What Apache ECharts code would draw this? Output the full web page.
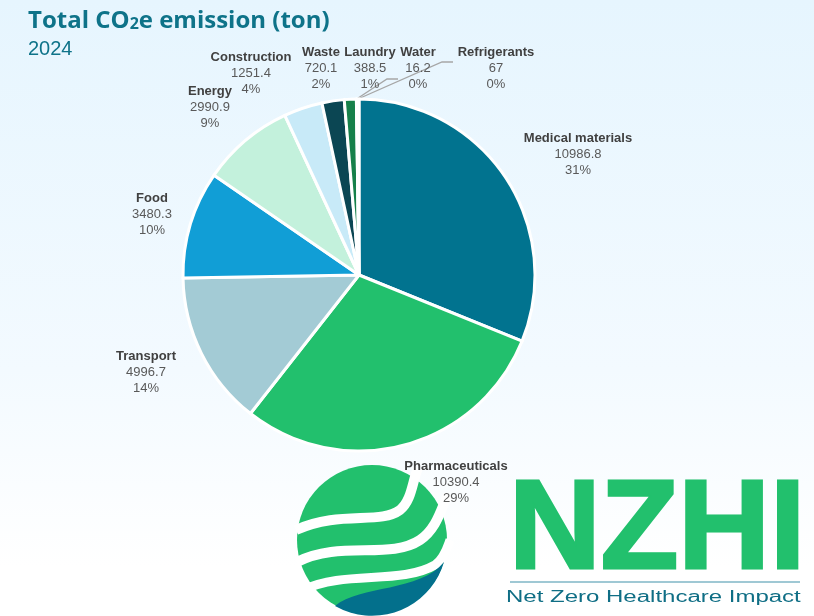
<!DOCTYPE html>
<html>
<head>
<meta charset="utf-8">
<script src="https://cdn.jsdelivr.net/npm/echarts@6/dist/echarts.min.js"></script>
<style>
  html, body { margin: 0; padding: 0; }
  #main {
    width: 814px;
    height: 616px;
    background: linear-gradient(to bottom, #e6f5fe 0%, #f3faff 60%, #ffffff 92%);
  }
</style>
</head>
<body>
<div id="main"></div>
<script>
// categories + values (clockwise from 12 o'clock)
var categories = ['Medical materials', 'Pharmaceuticals', 'Transport', 'Food', 'Energy',
  'Construction', 'Waste', 'Laundry', 'Water', 'Refrigerants'];
var values = [10986.8, 10390.4, 4996.7, 3480.3, 2990.9, 1251.4, 720.1, 388.5, 16.2, 67];
var colors = ['#01738f', '#22c06d', '#a3cbd5', '#119ed6', '#c3f1dc',
  '#c8eaf8', '#0b4653', '#16804a', '#6fcf97', '#0a5a6e'];
// where excel put each label block (centre)
var labelPos = [[578, 154], [456, 482], [146, 372], [152, 214], [210, 107],
  [251, 73], [321, 68], [370, 68], [418, 68], [496, 68]];
// leader line elbow + end for the tiny slices
var leaderEnds = { 8: [[387, 79], [398, 79]], 9: [[442, 62], [453, 62]] };

// logo shapes
var logoPaths = {
  gap1: 'M 296 530 C 340 510 380 525 400 510 C 412 500 412 482 418 468',
  gap2: 'M 297 562 C 340 540 390 560 420 540 C 438 528 442 505 448 495',
  gap3: 'M 303 590 C 345 570 400 585 435 565 C 445 558 448 545 450 540',
  teal: 'M 335 606 C 360 585 420 592 444 562 A 75 75 0 0 1 335 606 Z'
};
Object.keys(logoPaths).forEach(function (k) {
  echarts.graphic.registerShape('logo_' + k, echarts.graphic.extendPath(logoPaths[k], {}));
});

var chart = echarts.init(document.getElementById('main'));

var pieData = categories.map(function (name, i) {
  var item = { name: name, value: values[i], itemStyle: { color: colors[i] } };
  if (leaderEnds[i]) {
    item.labelLine = { show: true, length: 10, length2: 10, lineStyle: { color: '#a6a6a6', width: 1.3 } };
  }
  return item;
});

var option = {
  animation: false,
  title: {
    left: 28,
    top: 9,
    padding: 0,
    text: 'Total CO{s|2}e emission (ton)',
    textStyle: {
      fontFamily: 'Open Sans',
      fontSize: 24,
      fontWeight: 'bold',
      color: '#0e7389',
      rich: {
        s: { fontFamily: 'Open Sans', fontSize: 16, fontWeight: 'bold', color: '#0e7389', padding: [6, 0, 0, 0] }
      }
    },
    subtext: '2024',
    itemGap: 6,
    subtextStyle: { fontFamily: 'Liberation Sans', fontSize: 20, color: '#0e7389' }
  },
  graphic: [
    // NZHI logo (globe + wordmark)
    { type: 'circle', shape: { cx: 372, cy: 540, r: 75 }, style: { fill: '#22c06d' } },
    { type: 'logo_gap1', style: { fill: null, stroke: '#fff', lineWidth: 10 } },
    { type: 'logo_gap2', style: { fill: null, stroke: '#fff', lineWidth: 10 } },
    { type: 'logo_gap3', style: { fill: null, stroke: '#fff', lineWidth: 9 } },
    { type: 'logo_teal', style: { fill: '#03708c' } },
    { type: 'text', x: 509, y: 533,
      style: { text: 'NZHI', font: 'bold 127px "Liberation Sans"', fill: '#22c06d',
        stroke: '#22c06d', lineWidth: 3, verticalAlign: 'middle' } },
    { type: 'line', shape: { x1: 510, y1: 582, x2: 800, y2: 582 }, style: { stroke: '#7fb6c6', lineWidth: 1.5 } },
    { type: 'text', x: 506, y: 598, scaleX: 1.5,
      style: { text: 'Net Zero Healthcare Impact', font: '16px "Liberation Sans"', fill: '#0f6e85', verticalAlign: 'middle' } }
  ],
  series: [{
    type: 'pie',
    center: [359, 275],
    radius: 176,
    startAngle: 90,
    clockwise: true,
    percentPrecision: 0,
    avoidLabelOverlap: false,
    itemStyle: { borderColor: '#ffffff', borderWidth: 3 },
    label: {
      show: true,
      position: 'outside',
      formatter: '{n|{b}}\n{v|{c}}\n{v|{d}%}',
      align: 'center',
      rich: {
        n: { fontFamily: 'Liberation Sans', fontSize: 13, fontWeight: 'bold', color: '#404040', lineHeight: 16, align: 'center' },
        v: { fontFamily: 'Liberation Sans', fontSize: 13, color: '#595959', lineHeight: 16, align: 'center' }
      }
    },
    labelLine: { show: false },
    labelLayout: function (p) {
      var pos = labelPos[p.dataIndex];
      var out = { x: pos[0], y: pos[1], align: 'center', verticalAlign: 'middle' };
      var ends = leaderEnds[p.dataIndex];
      if (ends && p.labelLinePoints) {
        out.labelLinePoints = [p.labelLinePoints[0], ends[0], ends[1]];
      }
      return out;
    },
    data: pieData
  }]
};

chart.setOption(option);
</script>
</body>
</html>
